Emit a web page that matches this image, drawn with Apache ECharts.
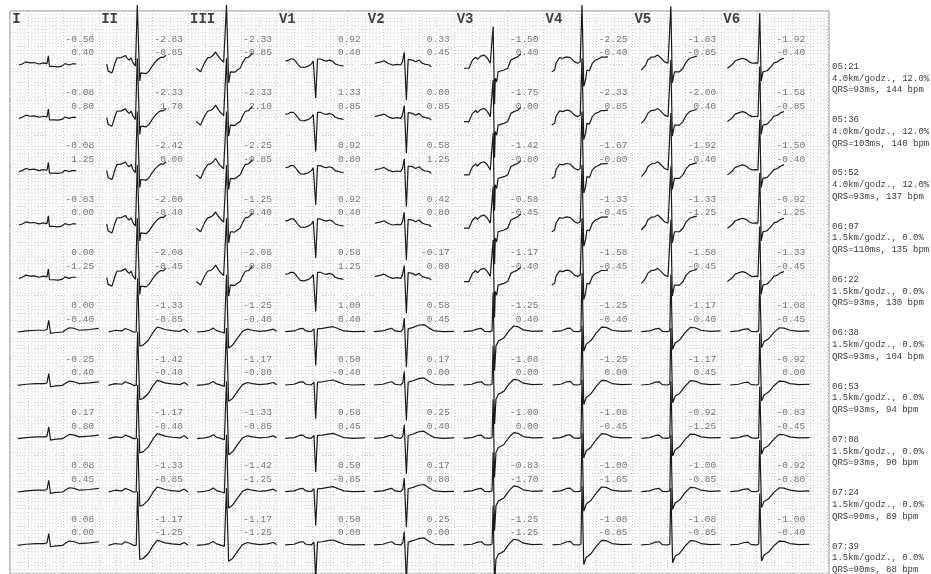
<!DOCTYPE html>
<html><head><meta charset="utf-8">
<script src="https://cdn.jsdelivr.net/npm/echarts@6/dist/echarts.min.js"></script>
<style>html,body{margin:0;padding:0;background:#fff}#c{width:931px;height:574px}</style>
</head><body><div id="c"></div>
<script>
// ---------------- DATA ----------------
const leads = ['I','II','III','V1','V2','V3','V4','V5','V6'];

// first value per cell (rows = stages, cols = leads)
const stLevel = [
  [-0.50,-2.83,-2.33,0.92,0.33,-1.50,-2.25,-1.83,-1.92],
  [-0.08,-2.33,-2.33,1.33,0.00,-1.75,-2.33,-2.00,-1.58],
  [-0.08,-2.42,-2.25,0.92,0.58,-1.42,-1.67,-1.92,-1.50],
  [-0.83,-2.00,-1.25,0.92,0.42,-0.58,-1.33,-1.33,-0.92],
  [0.00,-2.08,-2.08,0.58,-0.17,-1.17,-1.58,-1.58,-1.33],
  [0.00,-1.33,-1.25,1.00,0.58,-1.25,-1.25,-1.17,-1.08],
  [-0.25,-1.42,-1.17,0.50,0.17,-1.08,-1.25,-1.17,-0.92],
  [0.17,-1.17,-1.33,0.58,0.25,-1.00,-1.08,-0.92,-0.83],
  [0.08,-1.33,-1.42,0.50,0.17,-0.83,-1.00,-1.00,-0.92],
  [0.08,-1.17,-1.17,0.50,0.25,-1.25,-1.08,-1.08,-1.00]
];
// second value per cell
const stSlope = [
  [0.40,-0.85,-0.85,0.40,0.45,0.40,-0.40,-0.85,-0.40],
  [0.80,1.70,2.10,0.85,0.85,0.00,0.85,0.40,-0.85],
  [1.25,0.00,-0.85,0.80,1.25,-0.80,-0.80,-0.40,-0.40],
  [0.00,-0.40,-0.40,0.40,0.80,-0.45,-0.45,-1.25,-1.25],
  [-1.25,-0.45,-0.80,1.25,0.00,-0.40,-0.45,-0.45,-0.45],
  [-0.40,-0.85,-0.40,0.40,0.45,0.40,-0.40,-0.40,-0.45],
  [0.40,-0.40,-0.80,-0.40,0.00,0.00,0.00,0.45,0.00],
  [0.80,-0.40,-0.85,0.45,0.40,0.00,-0.45,-1.25,-0.45],
  [0.45,-0.85,-1.25,-0.85,0.80,-1.70,-1.65,-0.85,-0.80],
  [0.00,-1.25,-1.25,0.00,0.00,-1.25,-0.85,-0.85,-0.40]
];

const stageTime  = ['05:21','05:36','05:52','06:07','06:22','06:38','06:53','07:08','07:24','07:39'];
const stageSpeed = ['4.0km/godz.','4.0km/godz.','4.0km/godz.','1.5km/godz.','1.5km/godz.','1.5km/godz.','1.5km/godz.','1.5km/godz.','1.5km/godz.','1.5km/godz.'];
const stageGrade = ['12.0%','12.0%','12.0%','0.0%','0.0%','0.0%','0.0%','0.0%','0.0%','0.0%'];
const stageQRS   = [93,103,93,110,93,93,93,93,90,90];
const stageHR    = [144,140,137,135,130,104,94,90,89,88];
// 0 = exercise-shaped beat, 1 = recovery-shaped beat
const stagePhase = [0,0,0,0,0,1,1,1,1,1];

// averaged beats: [time in mm from R peak (25 mm/s), amplitude in mm (10 mm/mV)]
const exI   = [[-8.4,0],[-7.5,0.3],[-6.4,0.9],[-5.3,0.6],[-4.1,0.7],[-2.7,0.3],[-1.6,0.6],[-0.5,0.4],[-0.1,2.6],[0.2,-0.4],[1.2,-0.4],[2.6,-0.5],[3.7,-0.3],[4.6,0.4],[5.1,0.6],[5.7,0],[6.6,0.3],[7.7,0.3]];
const exII  = [[-8.7,0.3],[-8.3,-1.7],[-7.2,-2.2],[-6.3,0.8],[-5.8,2.0],[-4.6,2.1],[-4.1,2.5],[-3.4,2.7],[-3.0,2.0],[-2.4,1.4],[-1.8,2.0],[-1.3,0.6],[-0.6,-0.3],[-0.1,16.9],[0.6,-4.5],[0.9,-2.2],[2.4,-2.4],[3.2,-1.7],[4.1,-0.3],[4.9,0.8],[5.8,1.7],[6.6,2.2],[7.2,2.1],[8.0,2.8]];
const exIII = [[-8.5,-0.9],[-7.9,-1.4],[-7.3,-1.9],[-6.8,-1.4],[-6.2,0.6],[-5.3,2.0],[-4.5,2.2],[-3.7,2.8],[-3.1,3.7],[-2.5,2.8],[-2.0,2.0],[-1.4,1.4],[-0.8,0.8],[-0.3,0.6],[0,16.9],[0.6,-5],[1.1,-1.9],[2.3,-2.0],[3.1,-1.4],[3.9,-0.8],[4.5,0.6],[5.3,2.0],[6.2,2.2],[6.8,2.8],[7.3,3.4]];
const exV1  = [[-8.4,1.1],[-7.6,1.3],[-7.0,1.7],[-6.2,1.7],[-5.6,1.1],[-5.1,0.4],[-4.2,-0.6],[-3.1,-0.7],[-2.0,-0.3],[-1.1,0.3],[-0.6,1.1],[0.1,-9.3],[0.6,1.7],[1.4,1.7],[2.3,1.3],[3.1,1.1],[3.9,1.4],[4.8,1.1],[5.6,0.3],[6.5,0],[7.0,0.1],[7.9,-0.3]];
const exV2  = [[-8.3,0.5],[-6.6,0.9],[-5.7,1.2],[-4.6,0.5],[-3.3,0],[-1.9,0.2],[-1.0,0],[-0.5,0.9],[0,3.6],[0.6,-9.8],[1.1,1.6],[2.3,1.4],[3.2,0.9],[4.2,1.4],[5.1,0.5],[6.0,0.2],[7.0,0],[7.6,-0.5]];
const exV3  = [[-8.2,-0.9],[-6.8,-0.9],[-5.8,1.4],[-4.9,2.2],[-4.4,1.6],[-3.5,2.5],[-2.5,2.8],[-1.6,1.9],[-0.8,0.5],[-0.4,0],[0,10.8],[0.4,-11],[0.6,-3.7],[1.0,-4.7],[1.4,-1.9],[3.1,-1.4],[4.1,-0.9],[5.0,1.4],[5.9,1.9],[6.9,2.3],[7.8,3.1]];
const exV4  = [[-8.5,-1.9],[-7.7,-1.4],[-7.3,0.6],[-6.3,2.1],[-5.4,1.9],[-4.4,2.3],[-3.3,2.1],[-2.1,0.9],[-1.2,0.5],[-0.5,0.9],[0,16.9],[0.5,-6],[1.0,-4.2],[1.4,-1.4],[2.1,-1.6],[2.9,0.5],[3.8,1.4],[4.4,1.6],[5.4,2.2],[6.3,2.2],[7.3,2.3]];
const exV5  = [[-8.3,-1.4],[-7.9,-1.9],[-7.1,0],[-6.5,1.4],[-5.5,2.2],[-4.6,2.3],[-3.7,2.8],[-2.7,1.9],[-1.8,0.9],[-0.8,0.5],[-0.4,0.9],[0,16.5],[0.4,-5],[1.0,-1.9],[2.4,-1.9],[3.4,-0.9],[4.3,0.9],[5.3,1.9],[6.2,2.2],[7.3,2.5]];
const exV6  = [[-9.1,-0.9],[-8.6,-1.4],[-7.9,0],[-6.9,1.2],[-5.8,1.6],[-4.9,1.9],[-3.9,1.6],[-3.0,0.9],[-2.1,0.5],[-1.1,0.6],[-0.5,0.5],[0,14.6],[0.4,-4.5],[0.9,-1.9],[2.1,-1.6],[3.1,-0.5],[4.0,0.6],[5.0,0.9],[5.9,1.6],[6.8,1.9]];

const recI   = [[-8.7,-0.1],[-6.4,0.2],[-3.5,0.4],[-1.2,0.4],[-0.5,0.6],[0,3.2],[0.5,-0.5],[1.6,-0.3],[3.9,-0.1],[4.9,0.6],[5.8,1.1],[7.2,0.9],[8.6,0.4],[11.4,0.6],[14.1,0.9]];
const recII  = [[-8.2,-0.1],[-6.3,0.4],[-4.4,0.2],[-3.5,0.9],[-3.0,1.4],[-2.1,0.4],[-1.2,-0.1],[-0.4,-0.1],[0,15],[0.6,-4.1],[1.5,-3.8],[3.0,-2.4],[4.4,-0.1],[5.5,1.3],[6.3,1.1],[7.7,0.6],[9.7,0.3],[11.9,0.1],[13.1,0.7],[14.2,-0.1]];
const recIII = [[-8.3,-0.1],[-6.2,0.1],[-4.8,0.4],[-3.7,1.0],[-2.8,0.3],[-1.4,-0.1],[-0.6,-0.4],[0,16],[0.6,-4.6],[1.7,-3.8],[3.1,-1.8],[4.5,0.1],[5.9,0.7],[7.3,0.4],[9.3,0.1],[11.5,0.3],[13.2,0.7],[14.1,0.1]];
const recV1  = [[-8.5,0],[-6.0,0.2],[-4.5,0.8],[-3.5,0.9],[-2.6,0.2],[-1.2,0],[-0.4,0.8],[0.1,-9.5],[0.6,0.8],[2.0,0.9],[3.5,1.2],[5.0,1.4],[6.5,0.8],[8.0,0.2],[10.5,0],[14.0,0.1]];
const recV2  = [[-8.5,0],[-6.0,0.2],[-4.5,0.7],[-3.5,0.9],[-2.6,0.2],[-1.0,0],[-0.4,0.6],[0,3.8],[0.6,-10],[1.1,0.8],[2.5,1.2],[4.0,1.8],[5.5,2.0],[7.0,1.0],[8.5,0.2],[11,0],[14,0.1]];
const recV3  = [[-8.3,0],[-6,0.2],[-4.3,0.8],[-3.3,0.9],[-2.4,0.1],[-1,0],[-0.3,0.2],[0,11],[0.4,-11],[0.8,-4],[1.5,-2.6],[3,-1.8],[4.5,0.3],[5.8,1.6],[7,1.4],[8.5,0.5],[11,0.1],[14,0.2]];
const recV4  = [[-8.3,0],[-6,0.2],[-4.3,0.9],[-3.3,1.0],[-2.4,0.1],[-1,0],[-0.3,0.2],[0,16.5],[0.5,-5.5],[1.2,-3.5],[2.5,-2.5],[4,-0.4],[5.5,1.3],[6.8,1.2],[8.5,0.4],[11,0.1],[14,0.2]];
const recV5  = [[-8.3,0],[-6,0.2],[-4.3,0.8],[-3.3,0.9],[-2.4,0.1],[-1,0],[-0.3,0.2],[0,16],[0.5,-5],[1.2,-3.2],[2.5,-2.3],[4,-0.3],[5.5,1.2],[6.8,1.1],[8.5,0.4],[11,0.1],[14,0.2]];
const recV6  = [[-8.3,0],[-6,0.2],[-4.3,0.7],[-3.3,0.8],[-2.4,0.1],[-1,0],[-0.3,0.2],[0,14.5],[0.5,-4.5],[1.2,-2.8],[2.5,-2.0],[4,-0.2],[5.5,1.1],[6.8,1.0],[8.5,0.4],[11,0.1],[14,0.2]];

const beats = [
  [exI, exII, exIII, exV1, exV2, exV3, exV4, exV5, exV6],
  [recI, recII, recIII, recV1, recV2, recV3, recV4, recV5, recV6]
];

// ---------------- LAYOUT (paper millimetres) ----------------
const PX_MM = 3.555;
const G_LEFT = 10, G_TOP = 11, G_W = 819, G_H = 563;
const COL_W = 25, ROW_H = 15, QRS_X = 10.9, ROW0 = 15.2;
const NUM_X = 23.8, NUM1_DY = -7.3, NUM2_DY = -3.4;
const LEAD_X = 0.5, LEAD_Y = 2.5;

const series = [];
for (let r = 0; r < stageTime.length; r++) {
  const ref = ROW0 + r * ROW_H;
  for (let c = 0; c < leads.length; c++) {
    const tpl = beats[stagePhase[r]][c];
    series.push({
      type: 'line', clip: false, showSymbol: false, symbol: 'none', silent: true,
      lineStyle: { color: '#1a1a1a', width: 1.2 },
      data: tpl.map(p => [c * COL_W + QRS_X + p[0], ref - p[1]])
    });
  }
}
const numData = [];
for (let r = 0; r < stageTime.length; r++) {
  const ref = ROW0 + r * ROW_H;
  for (let c = 0; c < leads.length; c++) {
    numData.push({ value: [c * COL_W + NUM_X, ref + NUM1_DY], name: stLevel[r][c].toFixed(2) });
    numData.push({ value: [c * COL_W + NUM_X, ref + NUM2_DY], name: stSlope[r][c].toFixed(2) });
  }
}
series.push({
  type: 'scatter', symbolSize: 1, itemStyle: { color: 'rgba(0,0,0,0)' }, silent: true, clip: false,
  data: numData,
  label: { show: true, position: 'left', distance: 0, formatter: p => p.name,
           color: '#555', fontSize: 9.5, fontFamily: 'Liberation Mono, monospace' }
});
series.push({
  type: 'scatter', symbolSize: 1, itemStyle: { color: 'rgba(0,0,0,0)' }, silent: true, clip: false,
  data: leads.map((l, c) => ({ value: [c * COL_W + LEAD_X, LEAD_Y], name: l })),
  label: { show: true, position: 'right', distance: 0, formatter: p => p.name,
           color: '#111', fontSize: 14, fontWeight: 'bold', fontFamily: 'Liberation Mono, monospace' }
});

const graphic = [];
for (let r = 0; r < stageTime.length; r++) {
  const y0 = 66.5 + r * 53.3;
  const lines = [stageTime[r], stageSpeed[r] + ', ' + stageGrade[r], 'QRS=' + stageQRS[r] + 'ms, ' + stageHR[r] + ' bpm'];
  lines.forEach((t, i) => graphic.push({
    type: 'text', x: 832, y: y0 + i * 11.7, silent: true,
    style: { text: t, fill: '#3a3a3a', font: '9px "Liberation Mono", monospace', verticalAlign: 'middle', textVerticalAlign: 'middle' }
  }));
}

const chart = echarts.init(document.getElementById('c'), null, { renderer: 'canvas' });
chart.setOption({
  animation: false,
  backgroundColor: '#fff',
  grid: { left: G_LEFT, top: G_TOP, width: G_W, height: G_H, show: true, borderColor: '#8a8a8a', borderWidth: 1 },
  xAxis: {
    type: 'value', min: 0, max: G_W / PX_MM, interval: 5,
    axisLine: { show: false }, axisTick: { show: false }, axisLabel: { show: false },
    splitLine: { show: true, lineStyle: { color: '#c8c8c8', width: 1, type: [1, 2] } },
    minorTick: { show: false, splitNumber: 5 },
    minorSplitLine: { show: true, lineStyle: { color: '#f0f0f0', width: 1 } }
  },
  yAxis: {
    type: 'value', inverse: true, min: 0, max: G_H / PX_MM, interval: 5,
    axisLine: { show: false }, axisTick: { show: false }, axisLabel: { show: false },
    splitLine: { show: true, lineStyle: { color: '#c8c8c8', width: 1, type: [1, 2] } },
    minorTick: { show: false, splitNumber: 5 },
    minorSplitLine: { show: true, lineStyle: { color: '#f0f0f0', width: 1 } }
  },
  series: series,
  graphic: graphic
});
</script></body></html>
